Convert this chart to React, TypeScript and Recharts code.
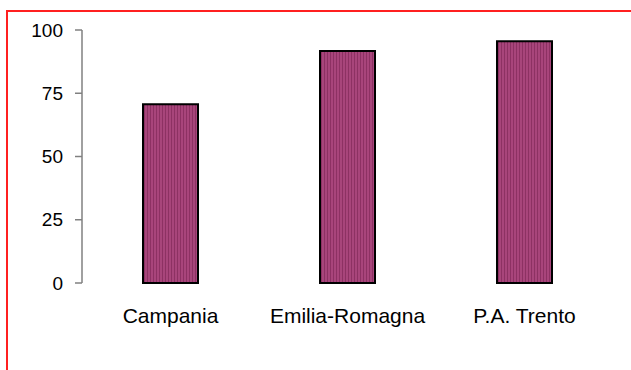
import { Bar, BarChart, XAxis, YAxis } from 'recharts';

const regions = ['Campania', 'Emilia-Romagna', 'P.A. Trento'];
const values = [70.7, 91.7, 95.6];
const yTicks = [0, 25, 50, 75, 100];

const data = regions.map((name, i) => ({ name, value: values[i] }));

const yFont = { fontFamily: '"Liberation Sans", Arial, sans-serif', fontSize: 19, fill: '#000' };
const xFont = { ...yFont, fontSize: 21 };

export default function App() {
  return (
    <div style={{ position: 'absolute', left: 0, top: 0, width: 631, height: 370, background: '#fff' }}>
      <div
        style={{
          position: 'absolute',
          left: 6,
          top: 10,
          right: 0,
          bottom: 0,
          borderLeft: '2px solid #ff2020',
          borderTop: '2px solid #ff2020',
        }}
      />
      <BarChart
        width={631}
        height={370}
        data={data}
        margin={{ top: 30, right: 18, bottom: 47, left: 0 }}
        barSize={55}
        style={{ position: 'absolute', left: 0, top: 0 }}
      >
        <defs>
          <pattern id="weave" width="3" height="3" patternUnits="userSpaceOnUse">
            <rect width="3" height="3" fill="#a8457b" />
            <rect width="1" height="3" fill="#8d3163" />
          </pattern>
        </defs>
        <XAxis dataKey="name" axisLine={false} tickLine={false} tick={xFont} tickMargin={19} height={40} />
        <YAxis
          width={82}
          domain={[0, 100]}
          ticks={yTicks}
          tick={yFont}
          tickSize={7}
          tickMargin={12}
          axisLine={{ stroke: '#808080', strokeWidth: 1.5 }}
          tickLine={{ stroke: '#808080', strokeWidth: 1.5 }}
        />
        <Bar dataKey="value" fill="url(#weave)" stroke="#000" strokeWidth={2} isAnimationActive={false} />
      </BarChart>
    </div>
  );
}
